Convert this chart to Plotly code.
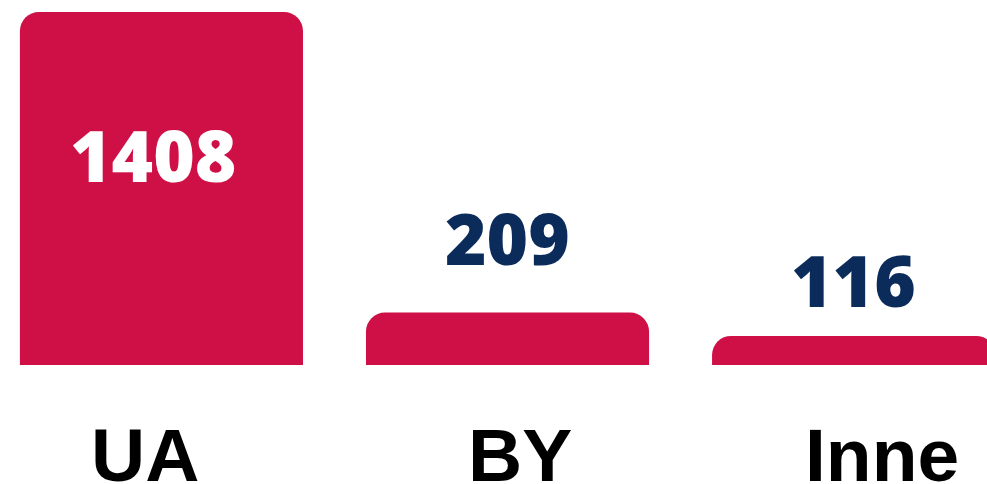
import plotly.graph_objects as go

categories = ["UA", "BY", "Inne"]
values = [1408, 209, 116]

# styling (not data)
bar_color = "#CE1046"
value_colors = ["#FFFFFF", "#0B2C5B", "#0B2C5B"]
value_yshift = [-142, 75, 56]
value_xshift = [-8, 0, 0]
cat_xshift = [-16, 12, 28]

fig = go.Figure()
fig.add_trace(go.Bar(
    x=categories, y=values,
    marker=dict(color=bar_color, line=dict(width=0)),
    width=0.818,
    hoverinfo="skip",
))

for i, (c, v) in enumerate(zip(categories, values)):
    fig.add_annotation(
        x=c, y=v, xref="x", yref="y", text=str(v), showarrow=False,
        yanchor="middle", yshift=value_yshift[i], xshift=value_xshift[i],
        font=dict(family="Open Sans", size=71, weight=800, color=value_colors[i]),
    )
    fig.add_annotation(
        x=c, y=0, xref="x", yref="y", text=f"<b>{c}</b>", showarrow=False,
        yanchor="middle", yshift=-90, xshift=cat_xshift[i],
        font=dict(family="Liberation Sans", size=75, color="#000000"),
    )

fig.update_layout(
    width=987, height=484,
    margin=dict(l=0, r=0, t=0, b=119),
    paper_bgcolor="white", plot_bgcolor="white",
    barcornerradius=19,
    showlegend=False,
    xaxis=dict(range=[-0.4665, 2.3855], showticklabels=False, showgrid=False,
               zeroline=False, showline=False, ticks=""),
    yaxis=dict(range=[0, 1456], showticklabels=False, showgrid=False,
               zeroline=False, showline=False, ticks=""),
)
fig.write_html(
    "out.html",
    config={"displayModeBar": False},
    post_script="document.body.style.margin='0';document.body.style.overflow='hidden';",
)
